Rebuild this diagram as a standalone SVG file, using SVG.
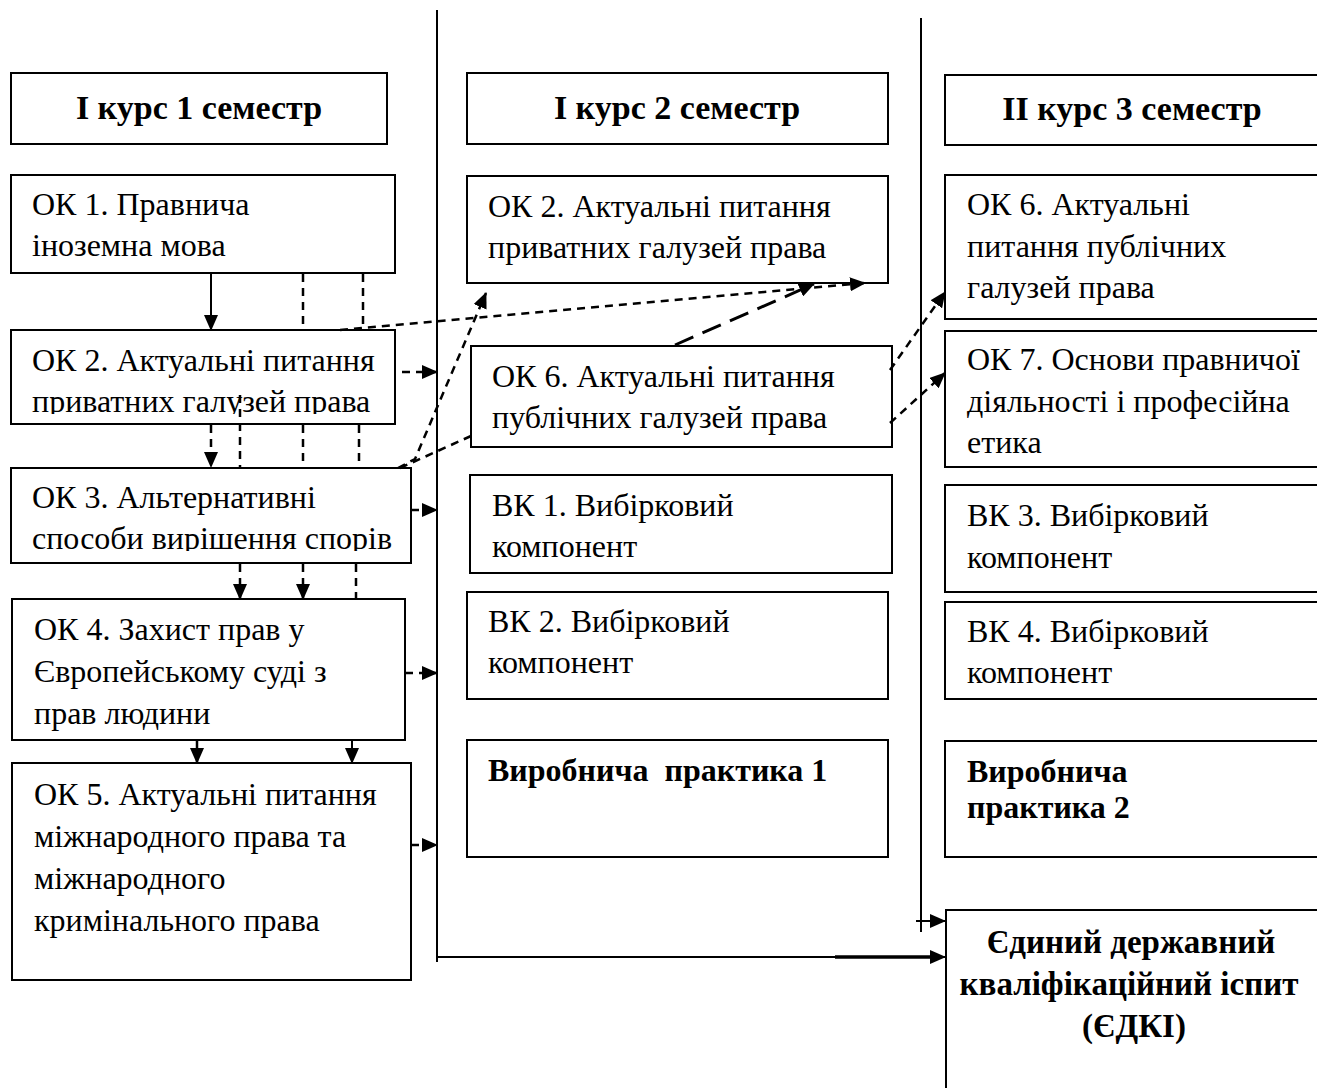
<svg xmlns="http://www.w3.org/2000/svg" width="1317" height="1088" viewBox="0 0 1317 1088">
<style>
.box{fill:#fff;stroke:#000;stroke-width:2}
.t{font-family:'Liberation Serif','Times New Roman',serif;font-size:32px;fill:#000}
.b{font-weight:bold}
.h{font-family:'Liberation Serif','Times New Roman',serif;font-size:34px;font-weight:bold;fill:#000;text-anchor:middle}
.c{text-anchor:middle;font-size:33px}
.d{stroke:#000;stroke-width:2.5;stroke-dasharray:8 6;fill:none}
.ld{stroke:#000;stroke-width:3;stroke-dasharray:20 10;fill:none}
.s{stroke:#000;stroke-width:2;fill:none}
</style>
<defs>
<marker id="ah" viewBox="0 0 16 14" refX="15" refY="7" markerWidth="16" markerHeight="14" markerUnits="userSpaceOnUse" orient="auto">
<path d="M0,0 L16,7 L0,14 z" fill="#000"/>
</marker>
<clipPath id="clip2"><rect x="0" y="0" width="1317" height="414"/></clipPath>
<clipPath id="clip3"><rect x="0" y="0" width="1317" height="551"/></clipPath>
</defs>
<rect x="0" y="0" width="1317" height="1088" fill="#fff"/>

<g id="header1"><rect class="box" x="11" y="73" width="376" height="71"/><text class="h" x="199" y="119">І курс 1 семестр</text></g>
<g id="header2"><rect class="box" x="467" y="73" width="421" height="71"/><text class="h" x="677" y="119">І курс 2 семестр</text></g>
<g id="header3"><rect class="box" x="945" y="75" width="390" height="70"/><text class="h" x="1132" y="120">ІІ курс 3 семестр</text></g>

<g id="ok1"><rect class="box" x="11" y="175" width="384" height="98"/><text class="t" x="32" y="215">ОК 1. Правнича</text><text class="t" x="32" y="256">іноземна мова</text></g>
<g id="ok2"><rect class="box" x="11" y="330" width="384" height="94"/><text class="t" x="32" y="371">ОК 2. Актуальні питання</text><text class="t" x="32" y="412" clip-path="url(#clip2)">приватних галузей права</text></g>
<g id="ok3"><rect class="box" x="11" y="468" width="400" height="95"/><text class="t" x="32" y="508">ОК 3. Альтернативні</text><text class="t" x="32" y="549" clip-path="url(#clip3)">способи вирішення спорів</text></g>
<g id="ok4"><rect class="box" x="12" y="599" width="393" height="141"/><text class="t" x="34" y="640">ОК 4. Захист прав у</text><text class="t" x="34" y="682">Європейському суді з</text><text class="t" x="34" y="724">прав людини</text></g>
<g id="ok5"><rect class="box" x="12" y="763" width="399" height="217"/><text class="t" x="34" y="805">ОК 5. Актуальні питання</text><text class="t" x="34" y="847">міжнародного права та</text><text class="t" x="34" y="889">міжнародного</text><text class="t" x="34" y="931">кримінального права</text></g>

<g id="ok2m"><rect class="box" x="467" y="176" width="421" height="107"/><text class="t" x="488" y="217">ОК 2. Актуальні питання</text><text class="t" x="488" y="258">приватних галузей права</text></g>
<g id="ok6m"><rect class="box" x="471" y="346" width="421" height="101"/><text class="t" x="492" y="387">ОК 6. Актуальні питання</text><text class="t" x="492" y="428">публічних галузей права</text></g>
<g id="vk1"><rect class="box" x="470" y="475" width="422" height="98"/><text class="t" x="492" y="516">ВК 1. Вибірковий</text><text class="t" x="492" y="557">компонент</text></g>
<g id="vk2"><rect class="box" x="467" y="592" width="421" height="107"/><text class="t" x="488" y="632">ВК 2. Вибірковий</text><text class="t" x="488" y="673">компонент</text></g>
<g id="vp1"><rect class="box" x="467" y="740" width="421" height="117"/><text class="t b" x="488" y="781" xml:space="preserve">Виробнича  практика 1</text></g>

<g id="ok6r"><rect class="box" x="945" y="175" width="390" height="144"/><text class="t" x="967" y="215">ОК 6. Актуальні</text><text class="t" x="967" y="257">питання публічних</text><text class="t" x="967" y="298">галузей права</text></g>
<g id="ok7r"><rect class="box" x="945" y="331" width="390" height="136"/><text class="t" x="967" y="370">ОК 7. Основи правничої</text><text class="t" x="967" y="412">діяльності і професійна</text><text class="t" x="967" y="453">етика</text></g>
<g id="vk3"><rect class="box" x="945" y="485" width="390" height="107"/><text class="t" x="967" y="526">ВК 3. Вибірковий</text><text class="t" x="967" y="568">компонент</text></g>
<g id="vk4"><rect class="box" x="945" y="602" width="390" height="97"/><text class="t" x="967" y="642">ВК 4. Вибірковий</text><text class="t" x="967" y="683">компонент</text></g>
<g id="vp2"><rect class="box" x="945" y="741" width="390" height="116"/><text class="t b" x="967" y="782">Виробнича</text><text class="t b" x="967" y="818">практика 2</text></g>
<g id="edki"><rect class="box" x="946" y="910" width="390" height="200"/><text class="t b c" x="1131" y="953">Єдиний державний</text><text class="t b c" x="1129" y="995">кваліфікаційний іспит</text><text class="t b c" x="1134" y="1037">(ЄДКІ)</text></g>

<g id="connectors">
<path class="s" d="M437,10 V962"/>
<path class="s" d="M921,18 V932"/>
<path class="s" d="M211,274 V330" marker-end="url(#ah)"/>
<path class="d" d="M303,274 V330"/>
<path class="d" d="M363,274 V328"/>
<path class="d" d="M340,330 L865,283" marker-end="url(#ah)"/>
<path class="d" d="M402,372 H437" marker-end="url(#ah)"/>
<path class="d" d="M211,425 V467" marker-end="url(#ah)"/>
<path class="d" d="M240,395 V467"/>
<path class="d" d="M303,425 V467"/>
<path class="d" d="M359,425 V467"/>
<path class="d" d="M398,468 L415,459 L486,293" marker-end="url(#ah)"/>
<path class="d" d="M400,468 L471,436"/>
<path class="ld" d="M675,345 L814,284" marker-end="url(#ah)"/>
<path class="d" d="M890,370 L945,292" marker-end="url(#ah)"/>
<path class="d" d="M890,423 L945,373" marker-end="url(#ah)"/>
<path class="d" d="M411,510 H437" marker-end="url(#ah)"/>
<path class="d" d="M240,564 V599" marker-end="url(#ah)"/>
<path class="d" d="M303,564 V599" marker-end="url(#ah)"/>
<path class="d" d="M356,564 V599"/>
<path class="d" d="M405,673 H437" marker-end="url(#ah)"/>
<path class="d" d="M197,740 V763" marker-end="url(#ah)"/>
<path class="s" d="M352,740 V763" marker-end="url(#ah)"/>
<path class="d" d="M411,845 H437" marker-end="url(#ah)"/>
<path class="s" d="M437,957 H945" marker-end="url(#ah)"/>
<path class="s" d="M835,957 H935" style="stroke-width:3.5"/>
<path class="s" d="M916,921 H945" marker-end="url(#ah)"/>
</g>
</svg>
